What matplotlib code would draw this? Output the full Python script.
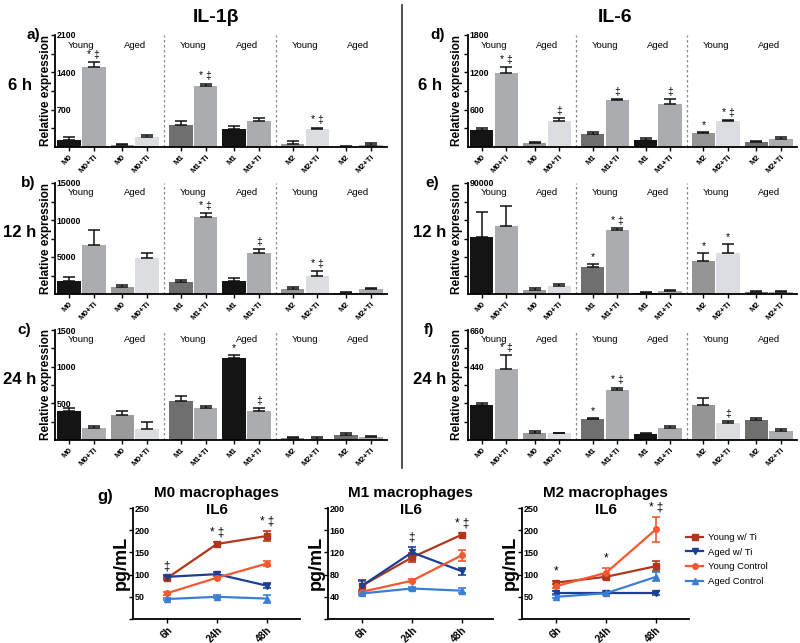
import matplotlib
matplotlib.use('Agg')
import matplotlib.pyplot as plt
import numpy as np
from matplotlib.lines import Line2D

plt.rcParams['font.family'] = ['Liberation Sans', 'DejaVu Sans']

# ---------------- data ----------------
bar_labels = ['M0', 'M0+Ti', 'M0', 'M0+Ti', 'M1', 'M1+Ti', 'M1', 'M1+Ti',
              'M2', 'M2+Ti', 'M2', 'M2+Ti']
group_labels = ['Young', 'Aged', 'Young', 'Aged', 'Young', 'Aged']
bar_colors = ['#141414', '#abacb0', '#9a9a9a', '#dcdde0',
              '#6f6f6f', '#abacb0', '#141414', '#abacb0',
              '#959595', '#dcdde0', '#6f6f6f', '#abacb0']

il1b_6h = [140, 1500, 30, 180, 410, 1150, 330, 490, 60, 345, 5, 45]
il1b_6h_err = [40, 100, 20, 40, 75, 40, 65, 50, 50, 20, 10, 25]
il1b_6h_sig = ['', '* ‡', '', '', '', '* ‡', '', '', '', '* ‡', '', '']

il1b_12h = [1750, 6600, 900, 4800, 1650, 10400, 1800, 5500, 700, 2500, 180, 620]
il1b_12h_err = [500, 2050, 300, 800, 280, 600, 320, 620, 300, 600, 100, 220]
il1b_12h_sig = ['', '', '', '', '', '* ‡', '', '‡', '', '* ‡', '', '']

il1b_24h = [400, 170, 335, 145, 535, 435, 1125, 400, 25, 20, 70, 35]
il1b_24h_err = [35, 25, 65, 95, 65, 30, 30, 30, 15, 15, 20, 20]
il1b_24h_sig = ['', '', '', '', '', '', '*', '‡', '', '', '', '']

il6_6h = [275, 1190, 70, 410, 205, 760, 115, 690, 220, 410, 80, 130]
il6_6h_err = [35, 95, 15, 55, 30, 15, 25, 75, 25, 25, 20, 25]
il6_6h_sig = ['', '* ‡', '', '‡', '', '‡', '', '‡', '*', '* ‡', '', '']

il6_12h = [46500, 55500, 3200, 6700, 21600, 52000, 900, 2300, 27000, 33000, 1300, 1600]
il6_12h_err = [20000, 15500, 1400, 1100, 2400, 1300, 600, 700, 6000, 7300, 800, 1000]
il6_12h_sig = ['', '', '', '', '*', '* ‡', '', '', '*', '*', '', '']

il6_24h = [210, 425, 45, 40, 125, 300, 35, 70, 210, 100, 120, 55]
il6_24h_err = [10, 85, 8, 5, 8, 15, 5, 16, 44, 14, 12, 10]
il6_24h_sig = ['', '* ‡', '', '', '*', '* ‡', '', '', '', '‡', '', '']

times = ['6h', '24h', '48h']
series_names = ['Young w/ Ti', 'Aged w/ Ti', 'Young Control', 'Aged Control']
series_colors = ['#b2361c', '#1c3f94', '#f4582f', '#3a7fd5']
series_markers = ['s', 'v', 'o', '^']

m0_young_ti = [92, 169, 187];  m0_young_ti_err = [5, 5, 12]
m0_aged_ti = [95, 101, 75];    m0_aged_ti_err = [3, 5, 6]
m0_young_ctrl = [58, 93, 125]; m0_young_ctrl_err = [3, 4, 5]
m0_aged_ctrl = [45, 50, 46];   m0_aged_ctrl_err = [3, 3, 9]
m0_sig = ['‡', '* ‡', '* ‡']

m1_young_ti = [60, 111, 152];  m1_young_ti_err = [8, 8, 3]
m1_aged_ti = [60, 120, 86];    m1_aged_ti_err = [10, 9, 6]
m1_young_ctrl = [49, 69, 115]; m1_young_ctrl_err = [4, 3, 10]
m1_aged_ctrl = [46, 55, 51];   m1_aged_ctrl_err = [3, 3, 4]
m1_sig = ['', '‡', '* ‡']

m2_young_ti = [82, 95, 119];   m2_young_ti_err = [4, 5, 12]
m2_aged_ti = [59, 59, 59];     m2_aged_ti_err = [3, 3, 4]
m2_young_ctrl = [74, 104, 202]; m2_young_ctrl_err = [4, 10, 28]
m2_aged_ctrl = [50, 58, 95];   m2_aged_ctrl_err = [3, 3, 10]
m2_sig = ['*', '*', '* ‡']

# ---------------- figure ----------------
W, H = 800, 643
fig = plt.figure(figsize=(W / 100, H / 100), dpi=100)


def add_ax(l, t, r, b):
    return fig.add_axes([l / W, 1 - b / H, (r - l) / W, (b - t) / H])


def ftext(x, y, s, **kw):
    fig.text(x / W, 1 - y / H, s, **kw)


xpos = np.array([(i // 4) * 4.5 + ((i // 2) % 2) * 2.15 + (i % 2) for i in range(12)])
pair_centers = [(xpos[2 * k] + xpos[2 * k + 1]) / 2 for k in range(6)]
sep_x = [(xpos[3] + xpos[4]) / 2 + 0.0, (xpos[7] + xpos[8]) / 2]


def style_inside_yticks(ax, fs):
    ax.tick_params(axis='y', which='major', length=3, width=1, pad=-4, labelsize=fs)
    ax.tick_params(axis='y', which='minor', length=3, width=1)
    for lab in ax.get_yticklabels():
        lab.set_horizontalalignment('left')
        lab.set_fontweight('bold')


def bar_panel(rect, vals, errs, sigs, ymax, major, minor):
    ax = add_ax(*rect)
    ax.bar(xpos, vals, width=0.95, color=bar_colors, zorder=2)
    ax.errorbar(xpos, vals, yerr=[np.zeros(len(vals)), errs], fmt='none',
                ecolor='#111111', elinewidth=1.1, capsize=4, capthick=1.1, zorder=3)
    for xi, v, e, s in zip(xpos, vals, errs, sigs):
        if s:
            ax.annotate(s, (xi, v + e), xytext=(0, 1.5), textcoords='offset points',
                        ha='center', va='bottom', fontsize=7.5)
    for sx in sep_x:
        ax.axvline(sx, color='#8a8a8a', lw=0.9, ls=(0, (2, 2)), zorder=1)
    for cx, g in zip(pair_centers, group_labels):
        ax.text(cx, 0.91, g, transform=ax.get_xaxis_transform(), ha='center',
                va='center', fontsize=6.8)
    ax.set_xlim(-0.56, 12.8)
    ax.set_ylim(0, ymax)
    ax.set_yticks(major)
    ax.set_yticklabels([str(m) for m in major])
    ax.set_yticks(minor, minor=True)
    style_inside_yticks(ax, 6.3)
    ax.set_xticks(xpos)
    ax.set_xticklabels(bar_labels, rotation=45, ha='right', rotation_mode='anchor',
                       fontsize=5.8, fontweight='bold')
    ax.tick_params(axis='x', length=3, width=1, pad=1.5)
    for sp in ['top', 'right']:
        ax.spines[sp].set_visible(False)
    for sp in ['left', 'bottom']:
        ax.spines[sp].set_linewidth(1.3)
    return ax


L = (55, 387)
R = (468, 797)
rows = [(35, 147), (183, 294), (330, 440)]

bar_panel((L[0], rows[0][0], L[1], rows[0][1]), il1b_6h, il1b_6h_err, il1b_6h_sig,
          2100, [700, 1400, 2100], [350, 1050, 1750])
bar_panel((L[0], rows[1][0], L[1], rows[1][1]), il1b_12h, il1b_12h_err, il1b_12h_sig,
          15000, [5000, 10000, 15000], [2500, 7500, 12500])
bar_panel((L[0], rows[2][0], L[1], rows[2][1]), il1b_24h, il1b_24h_err, il1b_24h_sig,
          1500, [500, 1000, 1500], [250, 750, 1250])
bar_panel((R[0], rows[0][0], R[1], rows[0][1]), il6_6h, il6_6h_err, il6_6h_sig,
          1800, [600, 1200, 1800], [300, 900, 1500])
bar_panel((R[0], rows[1][0], R[1], rows[1][1]), il6_12h, il6_12h_err, il6_12h_sig,
          90000, [90000], [15000, 30000, 45000, 60000, 75000])
bar_panel((R[0], rows[2][0], R[1], rows[2][1]), il6_24h, il6_24h_err, il6_24h_sig,
          660, [440, 660], [110, 220, 330, 550])

# titles and row labels
ftext(216, 17, 'IL-1β', ha='center', va='center', fontsize=14, fontweight='bold')
ftext(615, 17, 'IL-6', ha='center', va='center', fontsize=14, fontweight='bold')

for (t, b), letL, xl, letR, xr, hl in zip(rows, ['a)', 'b)', 'c)'], [33, 28, 24],
                                           ['d)', 'e)', 'f)'], [438, 432, 429],
                                           ['6 h', '12 h', '24 h']):
    ftext(xl, t, letL, ha='center', va='center', fontsize=11, fontweight='bold')
    ftext(xr, t, letR, ha='center', va='center', fontsize=11, fontweight='bold')
    cy = t + 0.45 * (b - t)
    ftext(20, cy, hl, ha='center', va='center', fontsize=12, fontweight='bold')
    ftext(430, cy, hl, ha='center', va='center', fontsize=12, fontweight='bold')
    ftext(46, (t + b) / 2, 'Relative expression', rotation=90, ha='center', va='center',
          fontsize=8.5, fontweight='bold')
    ftext(457, (t + b) / 2, 'Relative expression', rotation=90, ha='center', va='center',
          fontsize=8.5, fontweight='bold')

# vertical separator
fig.add_artist(Line2D([402 / W, 402 / W], [1 - 5 / H, 1 - 468 / H], color='#333333', lw=1.2))

# ---------------- line charts ----------------


def line_panel(rect, data, sigs, ymax, yt, title):
    ax = add_ax(*rect)
    xi = np.arange(len(times))
    for (v, e), c, m in zip(data, series_colors, series_markers):
        ax.errorbar(xi, v, yerr=e, color=c, marker=m, markersize=4, lw=1.6,
                    elinewidth=1.2, capsize=3, capthick=1.2, zorder=3)
    tops = np.max([np.array(v) + np.array(e) for v, e in data], axis=0)
    for x, tp, s in zip(xi, tops, sigs):
        if s:
            ax.annotate(s, (x, tp), xytext=(0, 2.5), textcoords='offset points',
                        ha='center', va='bottom', fontsize=8.5)
    l, t, r, b = rect
    ax.set_xlim(-0.68, -0.68 + (r - l) / 50.0)
    ax.set_ylim(0, ymax)
    ax.set_yticks([0] + yt)
    ax.set_yticklabels([''] + [str(v) for v in yt])
    style_inside_yticks(ax, 6.5)
    ax.set_xticks(xi)
    ax.set_xticklabels(times, rotation=45, ha='right', rotation_mode='anchor',
                       fontsize=7.3, fontweight='bold')
    ax.tick_params(axis='x', length=3, width=1, pad=1)
    for sp in ['top', 'right']:
        ax.spines[sp].set_visible(False)
    for sp in ['left', 'bottom']:
        ax.spines[sp].set_linewidth(1.3)
    cx = (l + r) / 2
    ftext(cx, 493, title, ha='center', va='center', fontsize=11, fontweight='bold')
    ftext(cx, 510, 'IL6', ha='center', va='center', fontsize=11, fontweight='bold')
    ftext(l - 12, 563, 'pg/mL', rotation=90, ha='center', va='center',
          fontsize=13, fontweight='bold')
    return ax


line_panel((133, 508, 300, 619),
           [(m0_young_ti, m0_young_ti_err), (m0_aged_ti, m0_aged_ti_err),
            (m0_young_ctrl, m0_young_ctrl_err), (m0_aged_ctrl, m0_aged_ctrl_err)],
           m0_sig, 250, [50, 100, 150, 200, 250], 'M0 macrophages')
line_panel((328, 508, 493, 619),
           [(m1_young_ti, m1_young_ti_err), (m1_aged_ti, m1_aged_ti_err),
            (m1_young_ctrl, m1_young_ctrl_err), (m1_aged_ctrl, m1_aged_ctrl_err)],
           m1_sig, 200, [40, 80, 120, 160, 200], 'M1 macrophages')
line_panel((522, 508, 689, 619),
           [(m2_young_ti, m2_young_ti_err), (m2_aged_ti, m2_aged_ti_err),
            (m2_young_ctrl, m2_young_ctrl_err), (m2_aged_ctrl, m2_aged_ctrl_err)],
           m2_sig, 250, [50, 100, 150, 200, 250], 'M2 macrophages')

ftext(105, 497, 'g)', ha='center', va='center', fontsize=12, fontweight='bold')

handles = [Line2D([], [], color=c, marker=m, markersize=4, lw=1.6)
           for c, m in zip(series_colors, series_markers)]
fig.legend(handles, series_names, loc='upper left',
           bbox_to_anchor=(686 / W, 1 - 533 / H), frameon=False, fontsize=6.8,
           handlelength=1.8, handletextpad=0.5, labelspacing=0.6,
           borderpad=0, borderaxespad=0)

fig.savefig('out.png', dpi=100)
